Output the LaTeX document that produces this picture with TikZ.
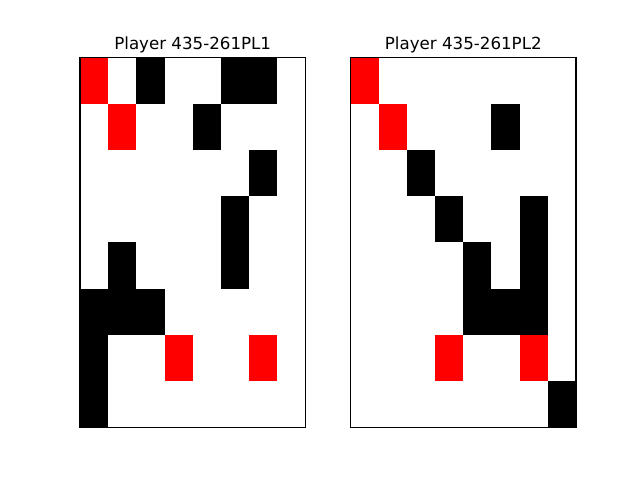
\documentclass[tikz,border=0pt]{standalone}
\usepackage{fontspec}
\setmainfont{DejaVu Sans}
\usepackage{tikz}
\usetikzlibrary{positioning}
\definecolor{cellred}{RGB}{255,0,0}

\begin{document}
\begin{tikzpicture}[
  x=1pt,y=-1pt,
  title/.style={font=\fontsize{16.67}{20}\selectfont,anchor=base,inner sep=0pt},
  frame/.style={draw=black,line width=1.11pt},
  cell/.style={fill=#1}
]
\useasboundingbox[fill=white] (0,0) rectangle (640,480);

% left board
\foreach \c/\r/\col in {0/0/cellred,2/0/black,5/0/black,6/0/black,
                        1/1/cellred,4/1/black,6/2/black,5/3/black,
                        1/4/black,5/4/black,0/5/black,1/5/black,2/5/black,
                        0/6/black,3/6/cellred,6/6/cellred,0/7/black}
  \fill[cell=\col] ({80+\c*28.18},{57.6+\r*46.2}) rectangle ++(28.18,46.2);
\draw[frame] (80,57.6) rectangle (305.45,427.2);
\node[title] (t1) at (192.7,49.3) {Player 435-261PL1};

% right board
\foreach \c/\r/\col in {0/0/cellred,1/1/cellred,5/1/black,2/2/black,
                        3/3/black,6/3/black,4/4/black,6/4/black,
                        4/5/black,5/5/black,6/5/black,
                        3/6/cellred,6/6/cellred,7/7/black}
  \fill[cell=\col] ({350.55+\c*28.18},{57.6+\r*46.2}) rectangle ++(28.18,46.2);
\draw[frame] (350.55,57.6) rectangle (576,427.2);
\node[title] (t2) at (463.3,49.3) {Player 435-261PL2};
\end{tikzpicture}
\end{document}
